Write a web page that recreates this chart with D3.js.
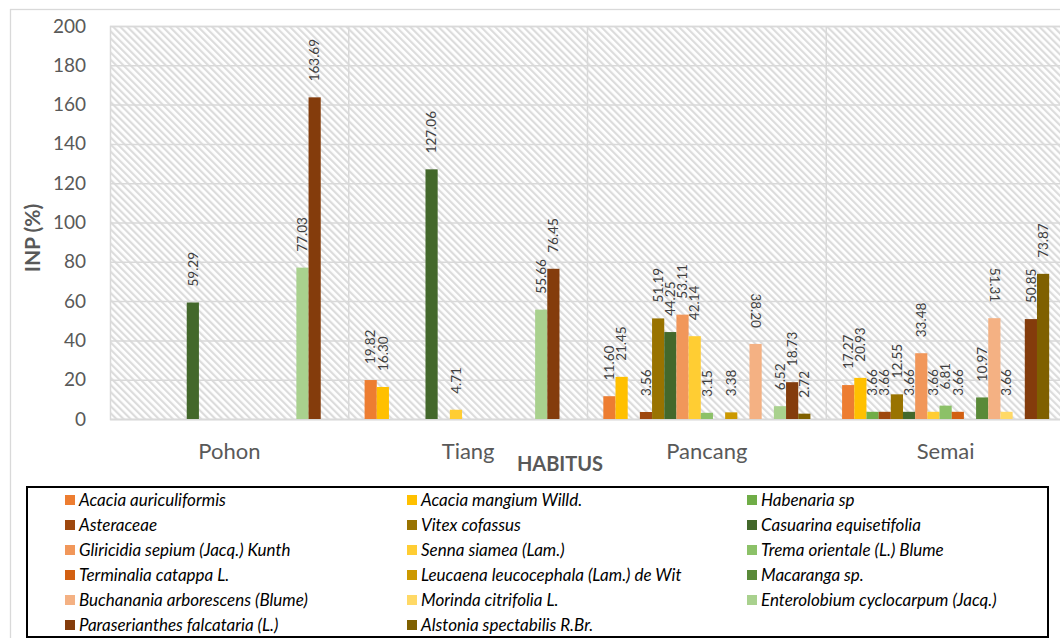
<!DOCTYPE html>
<html>
<head>
<meta charset="utf-8">
<script src="https://cdn.jsdelivr.net/npm/d3@7"></script>
<style>
  body { margin: 0; background: #fff; }
  svg { display: block; }
</style>
</head>
<body>
<svg id="chart" width="1060" height="638"></svg>
<script>
// Growth stages (habitus)
const categories = ["Pohon", "Tiang", "Pancang", "Semai"];

// Species, in series order
const species = [
  "Acacia auriculiformis",
  "Acacia mangium Willd.",
  "Habenaria sp",
  "Asteraceae",
  "Vitex cofassus",
  "Casuarina equisetifolia",
  "Gliricidia sepium (Jacq.) Kunth",
  "Senna siamea (Lam.)",
  "Trema orientale (L.) Blume",
  "Terminalia catappa L.",
  "Leucaena leucocephala (Lam.) de Wit",
  "Macaranga sp.",
  "Buchanania arborescens (Blume)",
  "Morinda citrifolia L.",
  "Enterolobium cyclocarpum (Jacq.)",
  "Paraserianthes falcataria (L.)",
  "Alstonia spectabilis R.Br."
];

const speciesColors = [
  "#ED7D31", "#FFC000", "#70AD47",
  "#9E480E", "#997300", "#43682B",
  "#F1975A", "#FFCD33", "#8CC168",
  "#D26012", "#CC9900", "#5A8A39",
  "#F4B183", "#FFD966", "#A9D18E",
  "#843C0C", "#7F6000"
];

// INP (%) per species for each habitus; null = species not recorded
const inpPohon   = [null, null, null, null, null, 59.29, null, null, null, null, null, null, null, null, 77.03, 163.69, null];
const inpTiang   = [19.82, 16.30, null, null, null, 127.06, null, 4.71, null, null, null, null, null, null, 55.66, 76.45, null];
const inpPancang = [11.60, 21.45, null, 3.56, 51.19, 44.25, 53.11, 42.14, 3.15, null, 3.38, null, 38.20, null, 6.52, 18.73, 2.72];
const inpSemai   = [17.27, 20.93, 3.66, 3.66, 12.55, 3.66, 33.48, 3.66, 6.81, 3.66, null, 10.97, 51.31, 3.66, null, 50.85, 73.87];

const yTicks = [0, 20, 40, 60, 80, 100, 120, 140, 160, 180, 200];

// Series whose value labels read top-to-bottom
const flippedLabelSeries = ["Buchanania arborescens (Blume)"];

const valuesByCategory = {
  "Pohon": inpPohon,
  "Tiang": inpTiang,
  "Pancang": inpPancang,
  "Semai": inpSemai
};

const svg = d3.select("#chart");
const plot = { left: 110, right: 1065, top: 26, bottom: 419 };
const gray = "#595959";
const grid = "#D9D9D9";
const font = "Lato, 'Open Sans', sans-serif";

// Chart area frame
svg.append("rect")
  .attr("x", 10.5).attr("y", 9.5)
  .attr("width", 1200).attr("height", 800)
  .attr("fill", "#fff").attr("stroke", grid).attr("stroke-width", 1.3);

// Hatched plot background
const defs = svg.append("defs");
const pat = defs.append("pattern")
  .attr("id", "hatch")
  .attr("patternUnits", "userSpaceOnUse")
  .attr("width", 5).attr("height", 5)
  .attr("patternTransform", "rotate(-45)");
pat.append("rect").attr("width", 5).attr("height", 5).attr("fill", "#fff");
pat.append("rect").attr("x", 0).attr("y", 0).attr("width", 2.2).attr("height", 5).attr("fill", "#DCDCDC");

svg.append("rect")
  .attr("x", plot.left).attr("y", plot.top)
  .attr("width", plot.right - plot.left).attr("height", plot.bottom - plot.top)
  .attr("fill", "url(#hatch)");

const x0 = d3.scaleBand().domain(categories).range([plot.left, plot.right]).paddingInner(0).paddingOuter(0);
const x1 = d3.scaleBand().domain(species).range([0, x0.bandwidth()]).paddingInner(0).paddingOuter(1.3);
const y = d3.scaleLinear().domain([0, 200]).range([plot.bottom, plot.top]);
const color = d3.scaleOrdinal().domain(species).range(speciesColors);

// Horizontal gridlines + y axis labels
const yAxis = d3.axisLeft(y).tickValues(yTicks).tickSize(-(plot.right - plot.left)).tickPadding(24).tickFormat(d3.format("d"));
const gy = svg.append("g").attr("transform", `translate(${plot.left},0)`).call(yAxis);
gy.select(".domain").attr("stroke", grid).attr("stroke-width", 1.5);
gy.selectAll(".tick line").attr("stroke", grid).attr("stroke-width", 1.5);
gy.selectAll(".tick text")
  .attr("fill", gray)
  .style("font-family", font)
  .style("font-size", "19px");

// Category separators
svg.append("g").selectAll("line")
  .data(categories.slice(1))
  .join("line")
  .attr("x1", d => x0(d)).attr("x2", d => x0(d))
  .attr("y1", plot.top).attr("y2", plot.bottom)
  .attr("stroke", grid).attr("stroke-width", 1.5);

// Bottom axis with category names
const xAxis = d3.axisBottom(x0).tickSize(0).tickPadding(24);
const gx = svg.append("g").attr("transform", `translate(0,${plot.bottom})`).call(xAxis);
gx.select(".domain").attr("stroke", grid).attr("stroke-width", 1.5);
gx.selectAll(".tick text")
  .attr("fill", gray)
  .style("font-family", font)
  .style("font-size", "22px");

// Bars
const groups = svg.append("g").selectAll("g")
  .data(categories)
  .join("g")
  .attr("transform", d => `translate(${x0(d)},0)`);

const cells = groups.selectAll("g")
  .data(cat => species.map((s, i) => ({ cat, s, v: valuesByCategory[cat][i] })).filter(d => d.v !== null))
  .join("g");

cells.append("rect")
  .attr("x", d => x1(d.s))
  .attr("width", x1.bandwidth())
  .attr("y", d => y(d.v))
  .attr("height", d => y(0) - y(d.v))
  .attr("fill", d => color(d.s));

// Value labels, vertical
cells.append("text")
  .attr("transform", d => {
    const cx = x1(d.s) + x1.bandwidth() / 2;
    const cy = y(d.v) - 16;
    return flippedLabelSeries.includes(d.s)
      ? `translate(${cx},${cy}) rotate(90)`
      : `translate(${cx},${cy}) rotate(-90)`;
  })
  .attr("text-anchor", d => flippedLabelSeries.includes(d.s) ? "end" : "start")
  .attr("dy", "0.35em")
  .attr("fill", "#404040")
  .style("font-family", font)
  .style("font-size", "13.5px")
  .text(d => d3.format(".2f")(d.v));

// Axis titles
svg.append("text")
  .attr("transform", "translate(33,238) rotate(-90)")
  .attr("text-anchor", "middle")
  .attr("dy", "0.35em")
  .attr("fill", gray)
  .style("font-family", font)
  .style("font-size", "21px")
  .style("font-weight", "bold")
  .text("INP (%)");

svg.append("text")
  .attr("x", 560).attr("y", 471)
  .attr("text-anchor", "middle")
  .attr("fill", gray)
  .style("font-family", font)
  .style("font-size", "20px")
  .style("font-weight", "bold")
  .text("HABITUS");

// Legend
const legend = svg.append("g");
legend.append("rect")
  .attr("x", 27).attr("y", 487)
  .attr("width", 1021).attr("height", 150)
  .attr("fill", "#fff").attr("stroke", "#000").attr("stroke-width", 2);

const legendCols = [65, 407, 747];
const items = legend.selectAll("g.item")
  .data(species)
  .join("g")
  .attr("class", "item")
  .attr("transform", (d, i) => `translate(${legendCols[i % 3]},${500 + Math.floor(i / 3) * 25})`);

items.append("rect")
  .attr("x", 0).attr("y", -5)
  .attr("width", 10).attr("height", 10)
  .attr("fill", d => color(d));

items.append("text")
  .attr("x", 14).attr("dy", "0.35em")
  .attr("fill", "#000")
  .style("font-family", font)
  .style("font-size", "17px")
  .style("font-style", "italic")
  .text(d => d);
</script>
</body>
</html>
